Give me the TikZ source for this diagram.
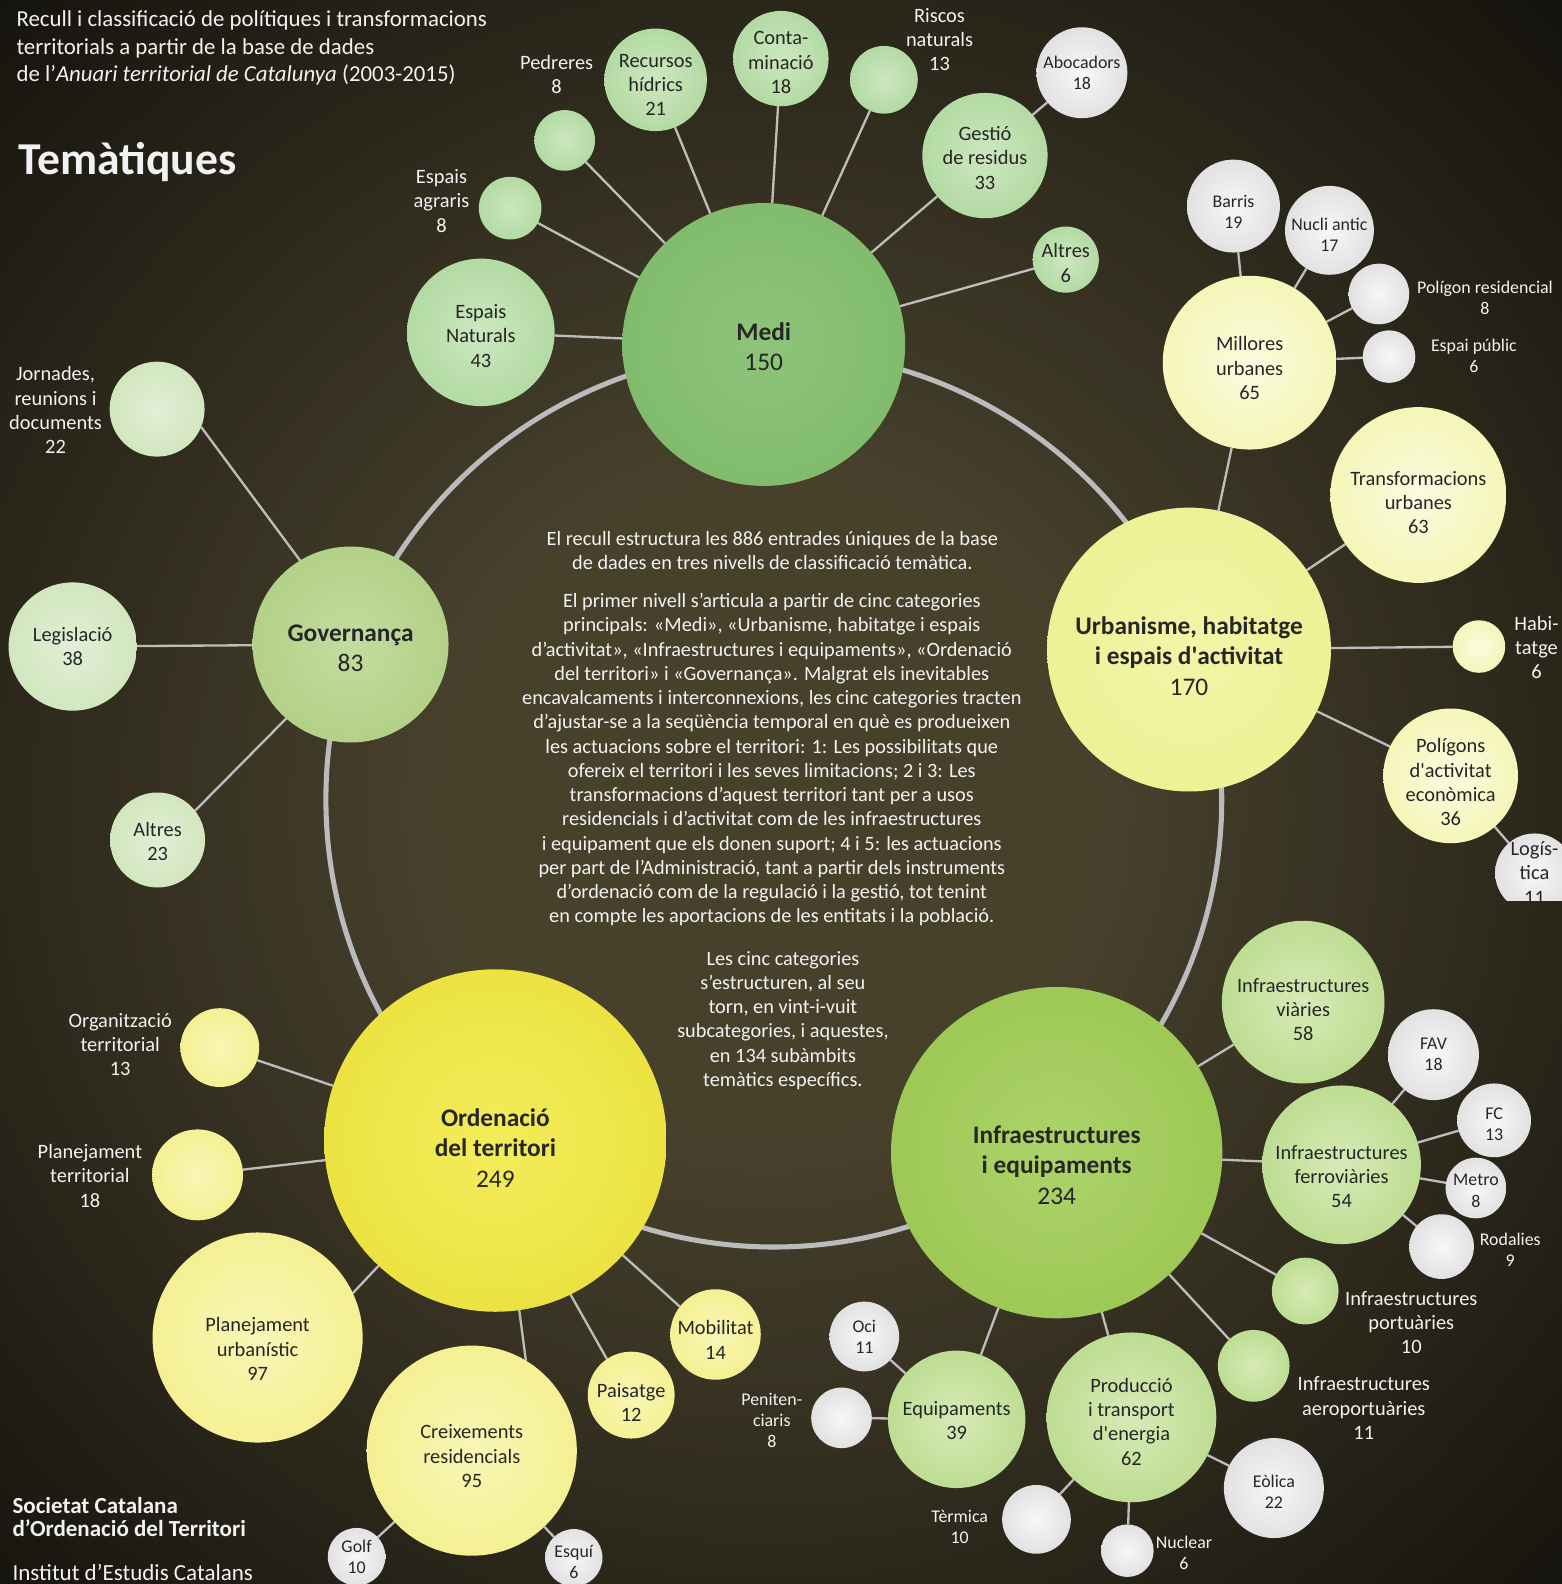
\documentclass[tikz,border=0pt]{standalone}
\usepackage{fontspec}
\setmainfont{Carlito}
\definecolor{bgA}{HTML}{47412C}
\definecolor{bgC}{HTML}{16140E}
\definecolor{tdark}{HTML}{262626}
\definecolor{wtxt}{HTML}{F2F2F2}
\definecolor{lnc}{HTML}{BDBDBD}
\definecolor{ringc}{HTML}{BBBBBE}
\newcommand\mkball[3]{\definecolor{#1A}{HTML}{#2}\definecolor{#1B}{HTML}{#3}%
  \pgfdeclareradialshading{#1}{\pgfpoint{0bp}{0bp}}{color(0bp)=(#1A); color(50bp)=(#1B); color(72bp)=(#1B)}}
\mkball{medi}{8EC47B}{74B35F}
\mkball{medik}{CDE7C0}{98CE86}
\mkball{gov}{C3DCA0}{A2C66E}
\mkball{govk}{E2EFD6}{C1DEA8}
\mkball{urb}{F3F5A8}{E8EC82}
\mkball{urbk}{FBFBE0}{EEF08F}
\mkball{inf}{ADD36A}{8DBE42}
\mkball{infk}{D6EAB6}{A6D170}
\mkball{ord}{F3EC5A}{E4DA2A}
\mkball{ordk}{F9F6B6}{F0EA70}
\mkball{wht}{F7F7F7}{CCCCCC}
\newcommand\fLab{\fontsize{10.1}{12}\selectfont}
\newcommand\fSml{\fontsize{8.85}{10.5}\selectfont}
\newcommand\fBig{\fontsize{12.55}{15}\selectfont}
\newcommand\fBody{\fontsize{10.05}{12}\selectfont}
\newcommand\fHead{\fontsize{11.3}{13.65}\selectfont}
\newcommand\fTitle{\fontsize{22.6}{26}\selectfont\bfseries}
\newcommand\fFoot{\fontsize{11.4}{11.5}\selectfont}
% shift the text of a node down by #1 px (one px = 0.5pt)
\newcommand\dn[1]{\rule{0pt}{\dimexpr7.4pt+#1pt\relax}}
\newcommand\dnb[1]{\rule{0pt}{\dimexpr9.2pt+#1pt\relax}}
\newcommand\dns[1]{\rule{0pt}{\dimexpr6.5pt+#1pt\relax}}
\pgfdeclarelayer{bg}
\pgfdeclarelayer{ln}
\pgfsetlayers{bg,ln,main}
\begin{document}
\begin{tikzpicture}[x=0.5pt,y=-0.5pt,
  bub/.style={circle, inner sep=0pt, outer sep=0pt, shade, align=center, text=tdark, font=\fLab},
  rad/.style={minimum size=#1pt},
  sbub/.style={bub, shading=wht, font=\fSml},
  lbl/.style={align=center, text=wtxt, font=\fLab, inner sep=0pt},
  lbls/.style={lbl, font=\fSml},
  body/.style={align=center, text=wtxt, font=\fBody, inner sep=0pt},
  conn/.style={draw=lnc, line width=1.15pt},
  ring/.style={draw=ringc, line width=2.5pt}]
\begin{pgfonlayer}{bg}
\fill[bgC] (0,0) rectangle (1546,1568);
\begin{scope}
\clip (0,0) rectangle (1546,1568);
\foreach \i in {100,...,1}{
  \pgfmathsetmacro\tt{\i/100}
  \pgfmathsetmacro\pp{min(100,max(0,100*(1-\tt)/0.7))}
  \fill[bgA!\pp!bgC] (760,800) circle[radius=\tt*551pt];
}
\end{scope}
\end{pgfonlayer}
\useasboundingbox (0,0) rectangle (1546,1568);
\coordinate (rc) at (766,791);
\begin{pgfonlayer}{ln}
\draw[ring] (rc) circle[radius=221.7pt];
\end{pgfonlayer}

% header texts
\node[anchor=base west, text=wtxt, font=\fHead, align=left, inner sep=0pt] (head) at (16,80.8)
  {Recull i classificació de polítiques i transformacions\\territorials a partir de la base de dades\\de l’\textit{Anuari territorial de Catalunya} (2003-2015)};
\node[anchor=base west, text=wtxt, font=\fTitle, inner sep=0pt] (title) at (18,173) {Temàtiques};
\node[anchor=base west, text=wtxt, font=\fFoot\bfseries, align=left, inner sep=0pt] (soc) at (12,1521)
  {Societat Catalana\\d’Ordenació del Territori};
\node[anchor=base west, text=wtxt, font=\fFoot, inner sep=0pt] (iec) at (12,1565) {Institut d’Estudis Catalans};

% central text
\node[body] (p1) at (764.5,545) {El recull estructura les 886 entrades úniques de la base\\de dades en tres nivells de classificació temàtica.};
\node[body] (p2) at (764,752) {El primer nivell s’articula a partir de cinc categories\\principals: «Medi», «Urbanisme, habitatge i espais\\d’activitat», «Infraestructures i equipaments», «Ordenació\\del territori» i «Governança». Malgrat els inevitables\\encavalcaments i interconnexions, les cinc categories tracten\\d’ajustar-se a la seqüència temporal en què es produeixen\\les actuacions sobre el territori: 1: Les possibilitats que\\ofereix el territori i les seves limitacions; 2 i 3: Les\\transformacions d’aquest territori tant per a usos\\residencials i d’activitat com de les infraestructures\\i equipament que els donen suport; 4 i 5: les actuacions\\per part de l’Administració, tant a partir dels instruments\\d’ordenació com de la regulació i la gestió, tot tenint\\en compte les aportacions de les entitats i la població.};
\node[body] (p3) at (775,1010) {Les cinc categories\\s’estructuren, al seu\\torn, en vint-i-vuit\\subcategories, i aquestes,\\en 134 subàmbits\\temàtics específics.};

% ---- Medi
\node[bub, shading=medi, rad=140, font=\fBig] (medi) at (756,341) {\dnb{2}\textbf{Medi}\\150};
\node[bub, shading=medik, rad=73] (espnat) at (476,329) {\dn{3}Espais\\Naturals\\43};
\node[bub, shading=medik, rad=31] (espagr) at (505,206) {};
\node[lbl] (espagrl) at (437,199) {Espais\\agraris\\8};
\node[bub, shading=medik, rad=30] (pedr) at (559,139) {};
\node[lbl] (pedrl) at (551,74) {Pedreres\\8};
\node[bub, shading=medik, rad=49] (rechid) at (649,79) {\dn{4}Recursos\\hídrics\\21};
\node[bub, shading=medik, rad=44.5] (conta) at (773,58) {\dn{3}Conta-\\minació\\18};
\node[bub, shading=medik, rad=33.5] (riscos) at (875,79) {};
\node[lbl] (riscosl) at (930,39) {Riscos\\naturals\\13};
\node[bub, shading=medik, rad=62] (gestio) at (975,154) {\dn{2}Gestió\\de residus\\33};
\node[sbub, rad=45] (aboc) at (1071,72) {Abocadors\\18};
\node[bub, shading=medik, rad=26] (altres1) at (1055,257) {\dn{3}Altres\\6};

% ---- Governança
\node[bub, shading=gov, rad=97, font=\fBig] (gov) at (347,638) {\dnb{3}\textbf{Governança}\\83};
\node[bub, shading=govk, rad=47] (jorn) at (155.5,405) {};
\node[lbl] (jornl) at (55,406) {Jornades,\\reunions i\\documents\\22};
\node[bub, shading=govk, rad=63.5] (legis) at (72,640) {Legislació\\38};
\node[bub, shading=govk, rad=47] (altres2) at (156,831.5) {\dn{1}Altres\\23};

% ---- Urbanisme
\node[bub, shading=urb, rad=140.5, font=\fBig] (urb) at (1177,643) {\dnb{6}\textbf{Urbanisme, habitatge}\\\textbf{i espais d\textquotesingle activitat}\\170};
\node[bub, shading=urbk, rad=86] (mill) at (1237,359) {\dn{5}Millores\\urbanes\\65};
\node[sbub, rad=46] (barris) at (1221,204) {\dns{5}Barris\\19};
\node[sbub, rad=44] (nucli) at (1316,228) {\dns{4}Nucli antic\\17};
\node[sbub, rad=30] (polres) at (1365,291) {};
\node[lbls] (polresl) at (1470,294.5) {Polígon residencial\\8};
\node[sbub, rad=26] (esppub) at (1375,353) {};
\node[lbls] (esppubl) at (1459,352.5) {Espai públic\\6};
\node[bub, shading=urbk, rad=87] (transf) at (1404,490) {\dn{7}Transformacions\\urbanes\\63};
\node[bub, shading=urbk, rad=26] (habit) at (1464,640) {};
\node[lbl] (habitl) at (1521,641) {Habi-\\tatge\\6};
\node[bub, shading=urbk, rad=65] (polig) at (1436,768) {\dn{6}Polígons\\d\textquotesingle activitat\\econòmica\\36};
\begin{scope}
\clip (0,0) rectangle (1546,891);
\node[bub, shading=wht, rad=37] (logis) at (1519,864) {Logís-\\tica\\11};
\end{scope}

% ---- Infraestructures
\node[bub, shading=inf, rad=164, font=\fBig] (inf) at (1046,1141) {\dnb{12}\textbf{Infraestructures}\\\textbf{i equipaments}\\234};
\node[bub, shading=infk, rad=80.5] (viar) at (1290,992) {\dn{7}Infraestructures\\viàries\\58};
\node[bub, shading=infk, rad=78.5] (ferro) at (1328,1153) {\dn{11}Infraestructures\\ferroviàries\\54};
\node[sbub, rad=45] (fav) at (1419,1044) {FAV\\18};
\node[sbub, rad=36.5] (fc) at (1479,1109) {\dns{3}FC\\13};
\node[sbub, rad=30] (metro) at (1461,1176) {\dns{2}Metro\\8};
\node[sbub, rad=32] (rodal) at (1427,1234) {};
\node[lbls] (rodall) at (1495,1237) {Rodalies\\9};
\node[bub, shading=infk, rad=33] (port) at (1292,1278) {};
\node[lbl] (portl) at (1397,1309) {Infraestructures\\portuàries\\10};
\node[bub, shading=infk, rad=35.5] (aero) at (1241,1352) {};
\node[lbl] (aerol) at (1350,1394) {Infraestructures\\aeroportuàries\\11};
\node[bub, shading=infk, rad=84] (prod) at (1120,1403) {\dn{4}Producció\\i transport\\d\textquotesingle energia\\62};
\node[sbub, rad=49.5] (eol) at (1261,1473) {\dns{3}Eòlica\\22};
\node[sbub, rad=26] (nucl) at (1116,1535) {};
\node[lbls] (nucll) at (1172,1537.5) {Nuclear\\6};
\node[sbub, rad=34] (term) at (1026,1504) {};
\node[lbls] (terml) at (950,1511.5) {Tèrmica\\10};
\node[bub, shading=infk, rad=68] (equip) at (947,1405) {\dn{1}Equipaments\\39};
\node[sbub, rad=34.5] (oci) at (855.6,1323) {Oci\\11};
\node[sbub, rad=30] (penit) at (833,1403.5) {};
\node[lbls] (penitl) at (764,1406) {Peniten-\\ciaris\\8};

% ---- Ordenació
\node[bub, shading=ord, rad=169.5, font=\fBig] (ord) at (490.4,1129) {\dnb{7}\textbf{Ordenació}\\\textbf{del territori}\\249};
\node[bub, shading=ordk, rad=39] (orgt) at (217.6,1037) {};
\node[lbl] (orgtl) at (119,1034) {Organització\\territorial\\13};
\node[bub, shading=ordk, rad=45] (plant) at (195.6,1163) {};
\node[lbl] (plantl) at (89,1164) {Planejament\\territorial\\18};
\node[bub, shading=ordk, rad=104] (planu) at (255,1324) {\dn{11}Planejament\\urbanístic\\97};
\node[bub, shading=ordk, rad=104] (creix) at (467,1436) {\dn{5}Creixements\\residencials\\95};
\node[sbub, rad=28.5] (golf) at (353,1541) {Golf\\10};
\node[sbub, rad=26] (esqui) at (568,1542) {\dns{4}Esquí\\6};
\node[bub, shading=ordk, rad=37] (pais) at (624.8,1381) {\dn{7}Paisatge\\12};
\node[bub, shading=ordk, rad=44.5] (mob) at (708.3,1321) {\dn{5}Mobilitat\\14};

% ---- connectors
\begin{pgfonlayer}{ln}
\draw[conn] (medi) -- (espnat);
\draw[conn] (medi) -- (espagr);
\draw[conn] (medi) -- (pedr);
\draw[conn] (medi) -- (rechid);
\draw[conn] (medi) -- (conta);
\draw[conn] (medi) -- (riscos);
\draw[conn] (medi) -- (gestio);
\draw[conn] (medi) -- (altres1);
\draw[conn] (gestio) -- (aboc);
\draw[conn] (gov.121.6) -- (jorn.-22);
\draw[conn] (gov) -- (legis);
\draw[conn] (gov.229) -- (altres2.38);
\draw[conn] (urb) -- (mill);
\draw[conn] (urb) -- (transf);
\draw[conn] (urb) -- (habit);
\draw[conn] (urb) -- (polig);
\draw[conn] (mill) -- (barris);
\draw[conn] (mill) -- (nucli);
\draw[conn] (mill) -- (polres);
\draw[conn] (mill) -- (esppub);
\draw[conn] (polig) -- (logis);
\draw[conn] (inf) -- (viar);
\draw[conn] (inf) -- (ferro);
\draw[conn] (inf) -- (port);
\draw[conn] (inf) -- (aero);
\draw[conn] (inf) -- (prod);
\draw[conn] (inf) -- (equip);
\draw[conn] (ferro) -- (fav);
\draw[conn] (ferro) -- (fc);
\draw[conn] (ferro) -- (metro);
\draw[conn] (ferro) -- (rodal);
\draw[conn] (prod) -- (eol);
\draw[conn] (prod) -- (nucl);
\draw[conn] (prod) -- (term);
\draw[conn] (equip) -- (oci);
\draw[conn] (equip) -- (penit);
\draw[conn] (ord) -- (orgt);
\draw[conn] (ord) -- (plant);
\draw[conn] (ord.227.6) -- (planu.25.6);
\draw[conn] (ord.-82.5) -- (creix.59.6);
\draw[conn] (ord.-64) -- (pais.124);
\draw[conn] (ord.-42.3) -- (mob.142.4);
\draw[conn] (creix) -- (golf);
\draw[conn] (creix) -- (esqui);
\end{pgfonlayer}
\end{tikzpicture}
\end{document}
